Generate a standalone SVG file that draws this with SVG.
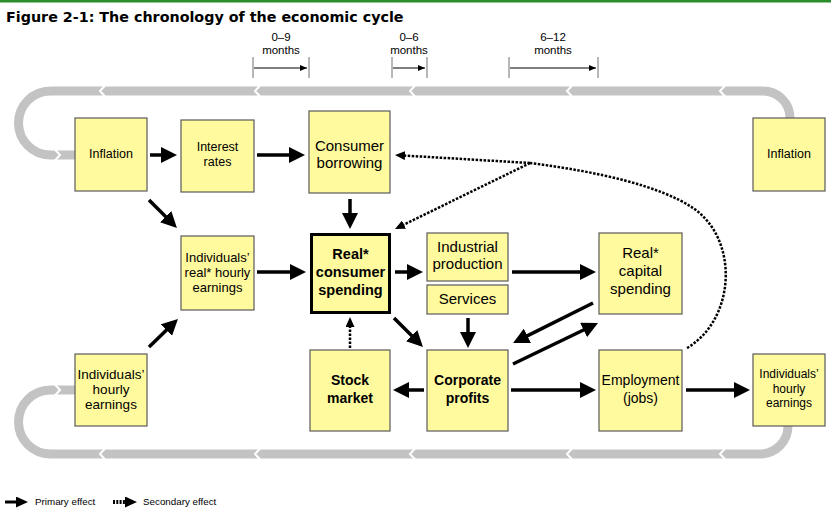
<svg xmlns="http://www.w3.org/2000/svg" width="831" height="511" viewBox="0 0 831 511">
<defs>
<style>
.box{fill:#fffa9e;stroke:#5a5a5a;stroke-width:1.2}
.t{font-family:"Liberation Sans",Arial,Helvetica,sans-serif;fill:#000;text-anchor:middle}
.b{font-weight:bold}
.pr{stroke:#000;stroke-width:3.5;fill:none;marker-end:url(#pa)}
.se{stroke:#000;stroke-width:2.5;fill:none;stroke-dasharray:2.5 1.5}
.sea{marker-end:url(#sa)}
.band{stroke:#c3c3c3;stroke-width:9;fill:none}
.chev{stroke:#fff;stroke-width:2;fill:none}
.bar{stroke:#707070;stroke-width:1;fill:none}
.tl{stroke:#000;stroke-width:1;fill:none;marker-end:url(#ta)}
.lg{font-family:"Liberation Sans",Arial,sans-serif;font-size:9.8px;fill:#000}
.mo{font-size:11.5px}
</style>
<marker id="pa" viewBox="0 0 16 16" refX="8" refY="8" markerWidth="16" markerHeight="16" markerUnits="userSpaceOnUse" orient="auto"><path d="M0,0 L16,8 L0,16 z" fill="#000"/></marker>
<marker id="sa" viewBox="0 0 10 9" refX="5" refY="4.5" markerWidth="10" markerHeight="9" markerUnits="userSpaceOnUse" orient="auto"><path d="M0,0 L10,4.5 L0,9 z" fill="#000"/></marker>
<marker id="la" viewBox="0 0 12 11" refX="6" refY="5.5" markerWidth="12" markerHeight="11" markerUnits="userSpaceOnUse" orient="auto"><path d="M0,0 L12,5.5 L0,11 z" fill="#000"/></marker>
<marker id="ta" viewBox="0 0 7 6" refX="7" refY="3" markerWidth="7" markerHeight="6" markerUnits="userSpaceOnUse" orient="auto"><path d="M0,0 L7,3 L0,6 z" fill="#000"/></marker>
</defs>
<rect x="0" y="0" width="831" height="511" fill="#fff"/>
<rect x="0" y="0" width="831" height="2.5" fill="#2a8c2a"/>
<text x="6" y="22" style="font-family:'DejaVu Sans',Verdana,sans-serif;font-weight:bold;font-size:14.3px">Figure 2-1: The chronology of the economic cycle</text>

<g id="timescale">
<text class="t mo" x="281" y="40.5">0–9</text>
<text class="t mo" x="281" y="54">months</text>
<path class="bar" d="M253 57 V78 M309 57 V78"/>
<path class="tl" d="M254 68 H307"/>
<text class="t mo" x="409" y="40.5">0–6</text>
<text class="t mo" x="409" y="54">months</text>
<path class="bar" d="M392 57 V78 M427 57 V78"/>
<path class="tl" d="M393 68 H425"/>
<text class="t mo" x="553" y="40.5">6–12</text>
<text class="t mo" x="553" y="54">months</text>
<path class="bar" d="M509 57 V78 M598 57 V78"/>
<path class="tl" d="M510 68 H596"/>
</g>

<g id="cycle-track">
<path class="band" d="M790 120 V118 A27 27 0 0 0 763 91 H50.5 A32 32 0 0 0 50.5 155 H78"/>
<path class="band" d="M788 424 V426 A28 28 0 0 1 760 454 H50.5 A32 32 0 0 1 50.5 390 H78"/>
<path class="chev" d="M105.5 85 L100 91 L105.5 97 M260.5 85 L255 91 L260.5 97 M415.5 85 L410 91 L415.5 97 M572.5 85 L567 91 L572.5 97 M725.5 85 L720 91 L725.5 97"/>
<path class="chev" d="M54.5 149 L60 155 L54.5 161 M54.5 384 L60 390 L54.5 396"/>
<path class="chev" d="M105.5 448 L100 454 L105.5 460 M260.5 448 L255 454 L260.5 460 M415.5 448 L410 454 L415.5 460 M572.5 448 L567 454 L572.5 460 M725.5 448 L720 454 L725.5 460"/>
</g>

<g id="connectors">
<path class="pr" d="M150 155 H169"/>
<path class="pr" d="M257 155 H297"/>
<path class="pr" d="M350 199 V221"/>
<path class="pr" d="M149 200 L171.3 222.3"/>
<path class="pr" d="M257 272 H298"/>
<path class="pr" d="M395 272 H415"/>
<path class="pr" d="M512 272 H588"/>
<path class="pr" d="M468 318 V340"/>
<path class="pr" d="M394 318 L417.3 341.3"/>
<path class="pr" d="M593 303 L520.2 339.4"/>
<path class="pr" d="M513 364 L590.8 326.5"/>
<path class="pr" d="M424 390 H401"/>
<path class="pr" d="M511 390 H588"/>
<path class="pr" d="M686 390 H742"/>
<path class="pr" d="M149 347 L172.2 324.6"/>
<path class="se sea" d="M350 348 V322"/>
<path class="se" d="M687 348 C735 320 740 240 693 208 C660 186 600 172 530 163"/>
<path class="se sea" d="M530 163 L400 155.3"/>
<path class="se sea" d="M530 163 L399.5 226.8"/>
</g>

<g id="n-inflation-left"><rect class="box" x="75" y="118" width="72" height="73"/><text class="t" x="111" y="158" font-size="12.5">Inflation</text></g>
<g id="n-interest-rates"><rect class="box" x="181" y="120" width="73" height="72"/><text class="t" x="217.5" y="151" font-size="12.5">Interest</text><text class="t" x="217.5" y="166" font-size="12.5">rates</text></g>
<g id="n-consumer-borrowing"><rect class="box" x="309" y="111" width="81" height="82"/><text class="t" x="349.5" y="151" font-size="15">Consumer</text><text class="t" x="349.5" y="168" font-size="15">borrowing</text></g>
<g id="n-inflation-right"><rect class="box" x="753" y="118" width="72" height="73"/><text class="t" x="789" y="158" font-size="12.5">Inflation</text></g>
<g id="n-real-hourly-earnings"><rect class="box" x="181" y="236" width="73" height="74"/><text class="t" x="217.5" y="262" font-size="13">Individuals’</text><text class="t" x="217.5" y="277" font-size="13">real* hourly</text><text class="t" x="217.5" y="292" font-size="13">earnings</text></g>
<g id="n-real-consumer-spending"><rect class="box" x="311.5" y="234.5" width="78" height="78" style="stroke:#000;stroke-width:3"/><text class="t b" x="350.5" y="259" font-size="14.5">Real*</text><text class="t b" x="350.5" y="277" font-size="14.5">consumer</text><text class="t b" x="350.5" y="295" font-size="14.5">spending</text></g>
<g id="n-industrial-production"><rect class="box" x="427" y="233" width="81" height="48"/><text class="t" x="467.5" y="252" font-size="15">Industrial</text><text class="t" x="467.5" y="269" font-size="15">production</text></g>
<g id="n-services"><rect class="box" x="427" y="285" width="81" height="29"/><text class="t" x="467.5" y="304" font-size="15">Services</text></g>
<g id="n-real-capital-spending"><rect class="box" x="599" y="233" width="83" height="81"/><text class="t" x="640.5" y="258" font-size="15">Real*</text><text class="t" x="640.5" y="276" font-size="15">capital</text><text class="t" x="640.5" y="294" font-size="15">spending</text></g>
<g id="n-stock-market"><rect class="box" x="310" y="350" width="80" height="81"/><text class="t b" x="350" y="385" font-size="14">Stock</text><text class="t b" x="350" y="403" font-size="14">market</text></g>
<g id="n-corporate-profits"><rect class="box" x="427" y="350" width="81" height="81"/><text class="t b" x="467.5" y="385" font-size="14">Corporate</text><text class="t b" x="467.5" y="403" font-size="14">profits</text></g>
<g id="n-employment"><rect class="box" x="599" y="350" width="83" height="81"/><text class="t" x="640.5" y="385" font-size="14">Employment</text><text class="t" x="640.5" y="403" font-size="14">(jobs)</text></g>
<g id="n-hourly-earnings-left"><rect class="box" x="75" y="354" width="72" height="72"/><text class="t" x="111" y="379" font-size="13.5">Individuals’</text><text class="t" x="111" y="394" font-size="13.5">hourly</text><text class="t" x="111" y="409" font-size="13.5">earnings</text></g>
<g id="n-hourly-earnings-right"><rect class="box" x="753" y="354" width="72" height="72"/><text class="t" x="789" y="378" font-size="12">Individuals’</text><text class="t" x="789" y="393" font-size="12">hourly</text><text class="t" x="789" y="407" font-size="12">earnings</text></g>

<g id="legend">
<path d="M5 502 H22" style="stroke:#000;stroke-width:3;fill:none;marker-end:url(#la)"/>
<text class="lg" x="35" y="505">Primary effect</text>
<path d="M113 502 H131" style="stroke:#000;stroke-width:4;fill:none;stroke-dasharray:2 1.3;marker-end:url(#la)"/>
<text class="lg" x="143" y="505">Secondary effect</text>
</g>
</svg>
